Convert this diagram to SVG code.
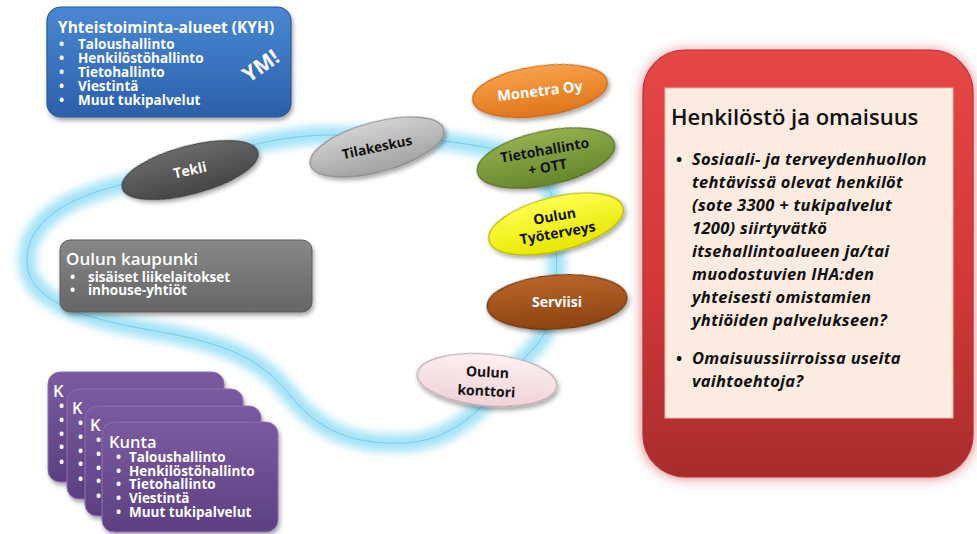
<svg xmlns="http://www.w3.org/2000/svg" width="977" height="534" viewBox="0 0 977 534">
<defs>
<style>
.t{font-family:"Open Sans","Noto Sans","Liberation Sans",sans-serif;}
.wb{fill:#ffffff;font-weight:bold;}
.dk{fill:#111111;font-weight:bold;}
.el{stroke-width:1.2;filter:url(#sh);}
.box{filter:url(#sh);}
</style>
<filter id="sh" x="-20%" y="-30%" width="140%" height="170%">
<feDropShadow dx="1.5" dy="3" stdDeviation="2" flood-color="#000" flood-opacity="0.35"/>
</filter>
<filter id="glow" x="-20%" y="-20%" width="140%" height="140%">
<feGaussianBlur stdDeviation="4"/>
</filter>
<filter id="redglow" x="-20%" y="-20%" width="140%" height="140%">
<feGaussianBlur stdDeviation="7"/>
</filter>
<linearGradient id="gBlue" x1="0" y1="0" x2="0" y2="1"><stop offset="0" stop-color="#4a88d2"/><stop offset="1" stop-color="#2b5fab"/></linearGradient>
<linearGradient id="gGray" x1="0" y1="0" x2="0" y2="1"><stop offset="0" stop-color="#888888"/><stop offset="1" stop-color="#656565"/></linearGradient>
<linearGradient id="gPurple" x1="0" y1="0" x2="0" y2="1"><stop offset="0" stop-color="#7a5aa0"/><stop offset="1" stop-color="#5c4082"/></linearGradient>
<linearGradient id="gRed" x1="0" y1="0" x2="0" y2="1"><stop offset="0" stop-color="#e64646"/><stop offset="0.55" stop-color="#d23838"/><stop offset="1" stop-color="#a82c2c"/></linearGradient>
<linearGradient id="gTekli" x1="0" y1="0" x2="0" y2="1"><stop offset="0" stop-color="#6a6a6a"/><stop offset="1" stop-color="#464646"/></linearGradient>
<linearGradient id="gTila" x1="0" y1="0" x2="0" y2="1"><stop offset="0" stop-color="#d2d2d2"/><stop offset="1" stop-color="#a2a2a2"/></linearGradient>
<linearGradient id="gMon" x1="0" y1="0" x2="0" y2="1"><stop offset="0" stop-color="#f8a24c"/><stop offset="1" stop-color="#e07418"/></linearGradient>
<linearGradient id="gTieto" x1="0" y1="0" x2="0" y2="1"><stop offset="0" stop-color="#93b04e"/><stop offset="1" stop-color="#67862c"/></linearGradient>
<linearGradient id="gTyo" x1="0" y1="0" x2="0" y2="1"><stop offset="0" stop-color="#ffff50"/><stop offset="1" stop-color="#e6e600"/></linearGradient>
<linearGradient id="gServ" x1="0" y1="0" x2="0" y2="1"><stop offset="0" stop-color="#b9652a"/><stop offset="1" stop-color="#8c430f"/></linearGradient>
<linearGradient id="gKont" x1="0" y1="0" x2="0" y2="1"><stop offset="0" stop-color="#fcf0f2"/><stop offset="1" stop-color="#efd2d7"/></linearGradient>
</defs>
<rect width="977" height="534" fill="#ffffff"/>

<g id="connectors">
<path d="M405,443 C340,446 310,420 290,395 C265,365 240,345 150,330 C80,318 28,300 27,262 C26,225 60,200 120,185 C200,162 260,135 330,135 C400,135 450,140 500,150 C545,160 560,200 557,240 C555,280 562,320 532,350 C502,380 470,440 405,443 Z" fill="none" stroke="#a6e3f7" stroke-width="18" filter="url(#glow)"/>
<path d="M405,443 C340,446 310,420 290,395 C265,365 240,345 150,330 C80,318 28,300 27,262 C26,225 60,200 120,185 C200,162 260,135 330,135 C400,135 450,140 500,150 C545,160 560,200 557,240 C555,280 562,320 532,350 C502,380 470,440 405,443 Z" fill="none" stroke="#62c8eb" stroke-width="0.8"/>
</g>

<g id="kyh">
<rect class="box" x="47" y="7" width="244" height="110" rx="14" fill="url(#gBlue)" stroke="#2a5896" stroke-width="1.2"/>
<text class="t wb" x="58" y="33" font-size="15.5">Yhteistoiminta-alueet (KYH)</text>
<text class="t wb" font-size="13.5"><tspan x="59" y="49">•</tspan><tspan x="78" y="49">Taloushallinto</tspan><tspan x="59" y="63">•</tspan><tspan x="78" y="63">Henkilöstöhallinto</tspan><tspan x="59" y="77">•</tspan><tspan x="78" y="77">Tietohallinto</tspan><tspan x="59" y="91">•</tspan><tspan x="78" y="91">Viestintä</tspan><tspan x="59" y="105">•</tspan><tspan x="78" y="105">Muut tukipalvelut</tspan></text>
<text class="t wb" x="261" y="73" font-size="21" text-anchor="middle" transform="rotate(-35 261 66)">YM!</text>
</g>

<g id="tekli">
<ellipse class="el" cx="190" cy="170" rx="70" ry="24" transform="rotate(-15 190 170)" fill="url(#gTekli)" stroke="#3c3c3c"/>
<text class="t wb" x="190" y="175" font-size="14" text-anchor="middle" transform="rotate(-12 190 170)">Tekli</text>
</g>

<g id="tilakeskus">
<ellipse class="el" cx="377" cy="147" rx="69" ry="25" transform="rotate(-15 377 147)" fill="url(#gTila)" stroke="#8a8a8a"/>
<text class="t dk" x="377" y="152" font-size="13.5" text-anchor="middle" transform="rotate(-12 377 147)">Tilakeskus</text>
</g>

<g id="monetra">
<ellipse class="el" cx="540" cy="91" rx="68" ry="25" transform="rotate(-8 540 91)" fill="url(#gMon)" stroke="#c66a1c"/>
<text class="t wb" x="540" y="96" font-size="14.5" text-anchor="middle" transform="rotate(-7 540 91)">Monetra Oy</text>
</g>

<g id="tietohallinto">
<ellipse class="el" cx="546" cy="158" rx="70" ry="27" transform="rotate(-12 546 158)" fill="url(#gTieto)" stroke="#546e22"/>
<text class="t dk" font-size="14" text-anchor="middle" transform="rotate(-10 546 158)"><tspan x="546" y="155">Tietohallinto</tspan><tspan x="546" y="172">+ OTT</tspan></text>
</g>

<g id="tyoterveys">
<ellipse class="el" cx="556" cy="224" rx="69" ry="27" transform="rotate(-14 556 224)" fill="url(#gTyo)" stroke="#b5b500"/>
<text class="t dk" font-size="14" text-anchor="middle" transform="rotate(-10 556 224)"><tspan x="556" y="221">Oulun</tspan><tspan x="556" y="238">Työterveys</tspan></text>
</g>

<g id="serviisi">
<ellipse class="el" cx="557" cy="302" rx="70" ry="27" transform="rotate(-4 557 302)" fill="url(#gServ)" stroke="#6e350b"/>
<text class="t wb" x="557" y="307" font-size="14" text-anchor="middle">Serviisi</text>
</g>

<g id="konttori">
<ellipse class="el" cx="487" cy="380" rx="70" ry="26" transform="rotate(5 487 380)" fill="url(#gKont)" stroke="#b9a9ac"/>
<text class="t dk" font-size="14" text-anchor="middle" transform="rotate(3 487 380)"><tspan x="487" y="377">Oulun</tspan><tspan x="487" y="396">konttori</tspan></text>
</g>

<g id="oulun-kaupunki">
<rect class="box" x="60" y="240" width="252" height="72" rx="10" fill="url(#gGray)" stroke="#5a5a5a" stroke-width="1"/>
<text class="t" x="66" y="265" font-size="17" fill="#ffffff" font-weight="600">Oulun kaupunki</text>
<text class="t wb" font-size="13.5"><tspan x="70" y="282">•</tspan><tspan x="88" y="282">sisäiset liikelaitokset</tspan><tspan x="70" y="295">•</tspan><tspan x="88" y="295">inhouse-yhtiöt</tspan></text>
</g>

<g id="kunta-1">
<rect class="box" x="48" y="372" width="176" height="110" rx="12" fill="url(#gPurple)" stroke="#8c72ad" stroke-width="1"/>
<text class="t" x="53" y="397" font-size="16.5" fill="#ffffff" font-weight="600">K</text>
<text class="t wb" font-size="13.5"><tspan x="59" y="411">•</tspan><tspan x="59" y="425">•</tspan><tspan x="59" y="439">•</tspan><tspan x="59" y="452">•</tspan><tspan x="59" y="467">•</tspan></text>
</g>
<g id="kunta-2">
<rect class="box" x="67" y="389" width="176" height="110" rx="12" fill="url(#gPurple)" stroke="#8c72ad" stroke-width="1"/>
<text class="t" x="72" y="414" font-size="16.5" fill="#ffffff" font-weight="600">K</text>
<text class="t wb" font-size="13.5"><tspan x="78" y="428">•</tspan><tspan x="78" y="442">•</tspan><tspan x="78" y="456">•</tspan><tspan x="78" y="469">•</tspan><tspan x="78" y="484">•</tspan></text>
</g>
<g id="kunta-3">
<rect class="box" x="85" y="406" width="176" height="110" rx="12" fill="url(#gPurple)" stroke="#8c72ad" stroke-width="1"/>
<text class="t" x="90" y="431" font-size="16.5" fill="#ffffff" font-weight="600">K</text>
<text class="t wb" font-size="13.5"><tspan x="96" y="445">•</tspan><tspan x="96" y="459">•</tspan><tspan x="96" y="473">•</tspan><tspan x="96" y="486">•</tspan><tspan x="96" y="501">•</tspan></text>
</g>
<g id="kunta-4">
<rect class="box" x="102" y="422" width="176" height="110" rx="12" fill="url(#gPurple)" stroke="#8c72ad" stroke-width="1"/>
<text class="t" x="109" y="448" font-size="16.5" fill="#ffffff" font-weight="600">Kunta</text>
<text class="t wb" font-size="13.5"><tspan x="116" y="462">•</tspan><tspan x="129" y="462">Taloushallinto</tspan><tspan x="116" y="476">•</tspan><tspan x="129" y="476">Henkilöstöhallinto</tspan><tspan x="116" y="489">•</tspan><tspan x="129" y="489">Tietohallinto</tspan><tspan x="116" y="503">•</tspan><tspan x="129" y="503">Viestintä</tspan><tspan x="116" y="517">•</tspan><tspan x="129" y="517">Muut tukipalvelut</tspan></text>
</g>

<g id="henkilosto">
<rect x="643" y="52" width="330" height="425" rx="42" fill="#c43a3a" opacity="0.75" filter="url(#redglow)"/>
<rect x="643" y="50" width="330" height="427" rx="42" fill="url(#gRed)" stroke="#b83232" stroke-width="1.2"/>
<rect x="665" y="88" width="288" height="330" fill="#fcebe0" stroke="#e7b9a8" stroke-width="1"/>
<text class="t" x="671" y="125" font-size="22" fill="#111111" font-weight="600">Henkilöstö ja omaisuus</text>
<text class="t" font-size="16.5" font-weight="bold" font-style="italic" fill="#111111" letter-spacing="0.3"><tspan x="676" y="165" font-style="normal">•</tspan><tspan x="692" y="165">Sosiaali- ja terveydenhuollon</tspan><tspan x="692" y="188">tehtävissä olevat henkilöt</tspan><tspan x="692" y="211">(sote 3300 + tukipalvelut</tspan><tspan x="692" y="234">1200) siirtyvätkö</tspan><tspan x="692" y="257">itsehallintoalueen  ja/tai</tspan><tspan x="692" y="280">muodostuvien IHA:den</tspan><tspan x="692" y="303">yhteisesti omistamien</tspan><tspan x="692" y="326">yhtiöiden palvelukseen?</tspan></text>
<text class="t" font-size="16.5" font-weight="bold" font-style="italic" fill="#111111" letter-spacing="0.3"><tspan x="676" y="364" font-style="normal">•</tspan><tspan x="692" y="364">Omaisuussiirroissa  useita</tspan><tspan x="692" y="387">vaihtoehtoja?</tspan></text>
</g>
</svg>
